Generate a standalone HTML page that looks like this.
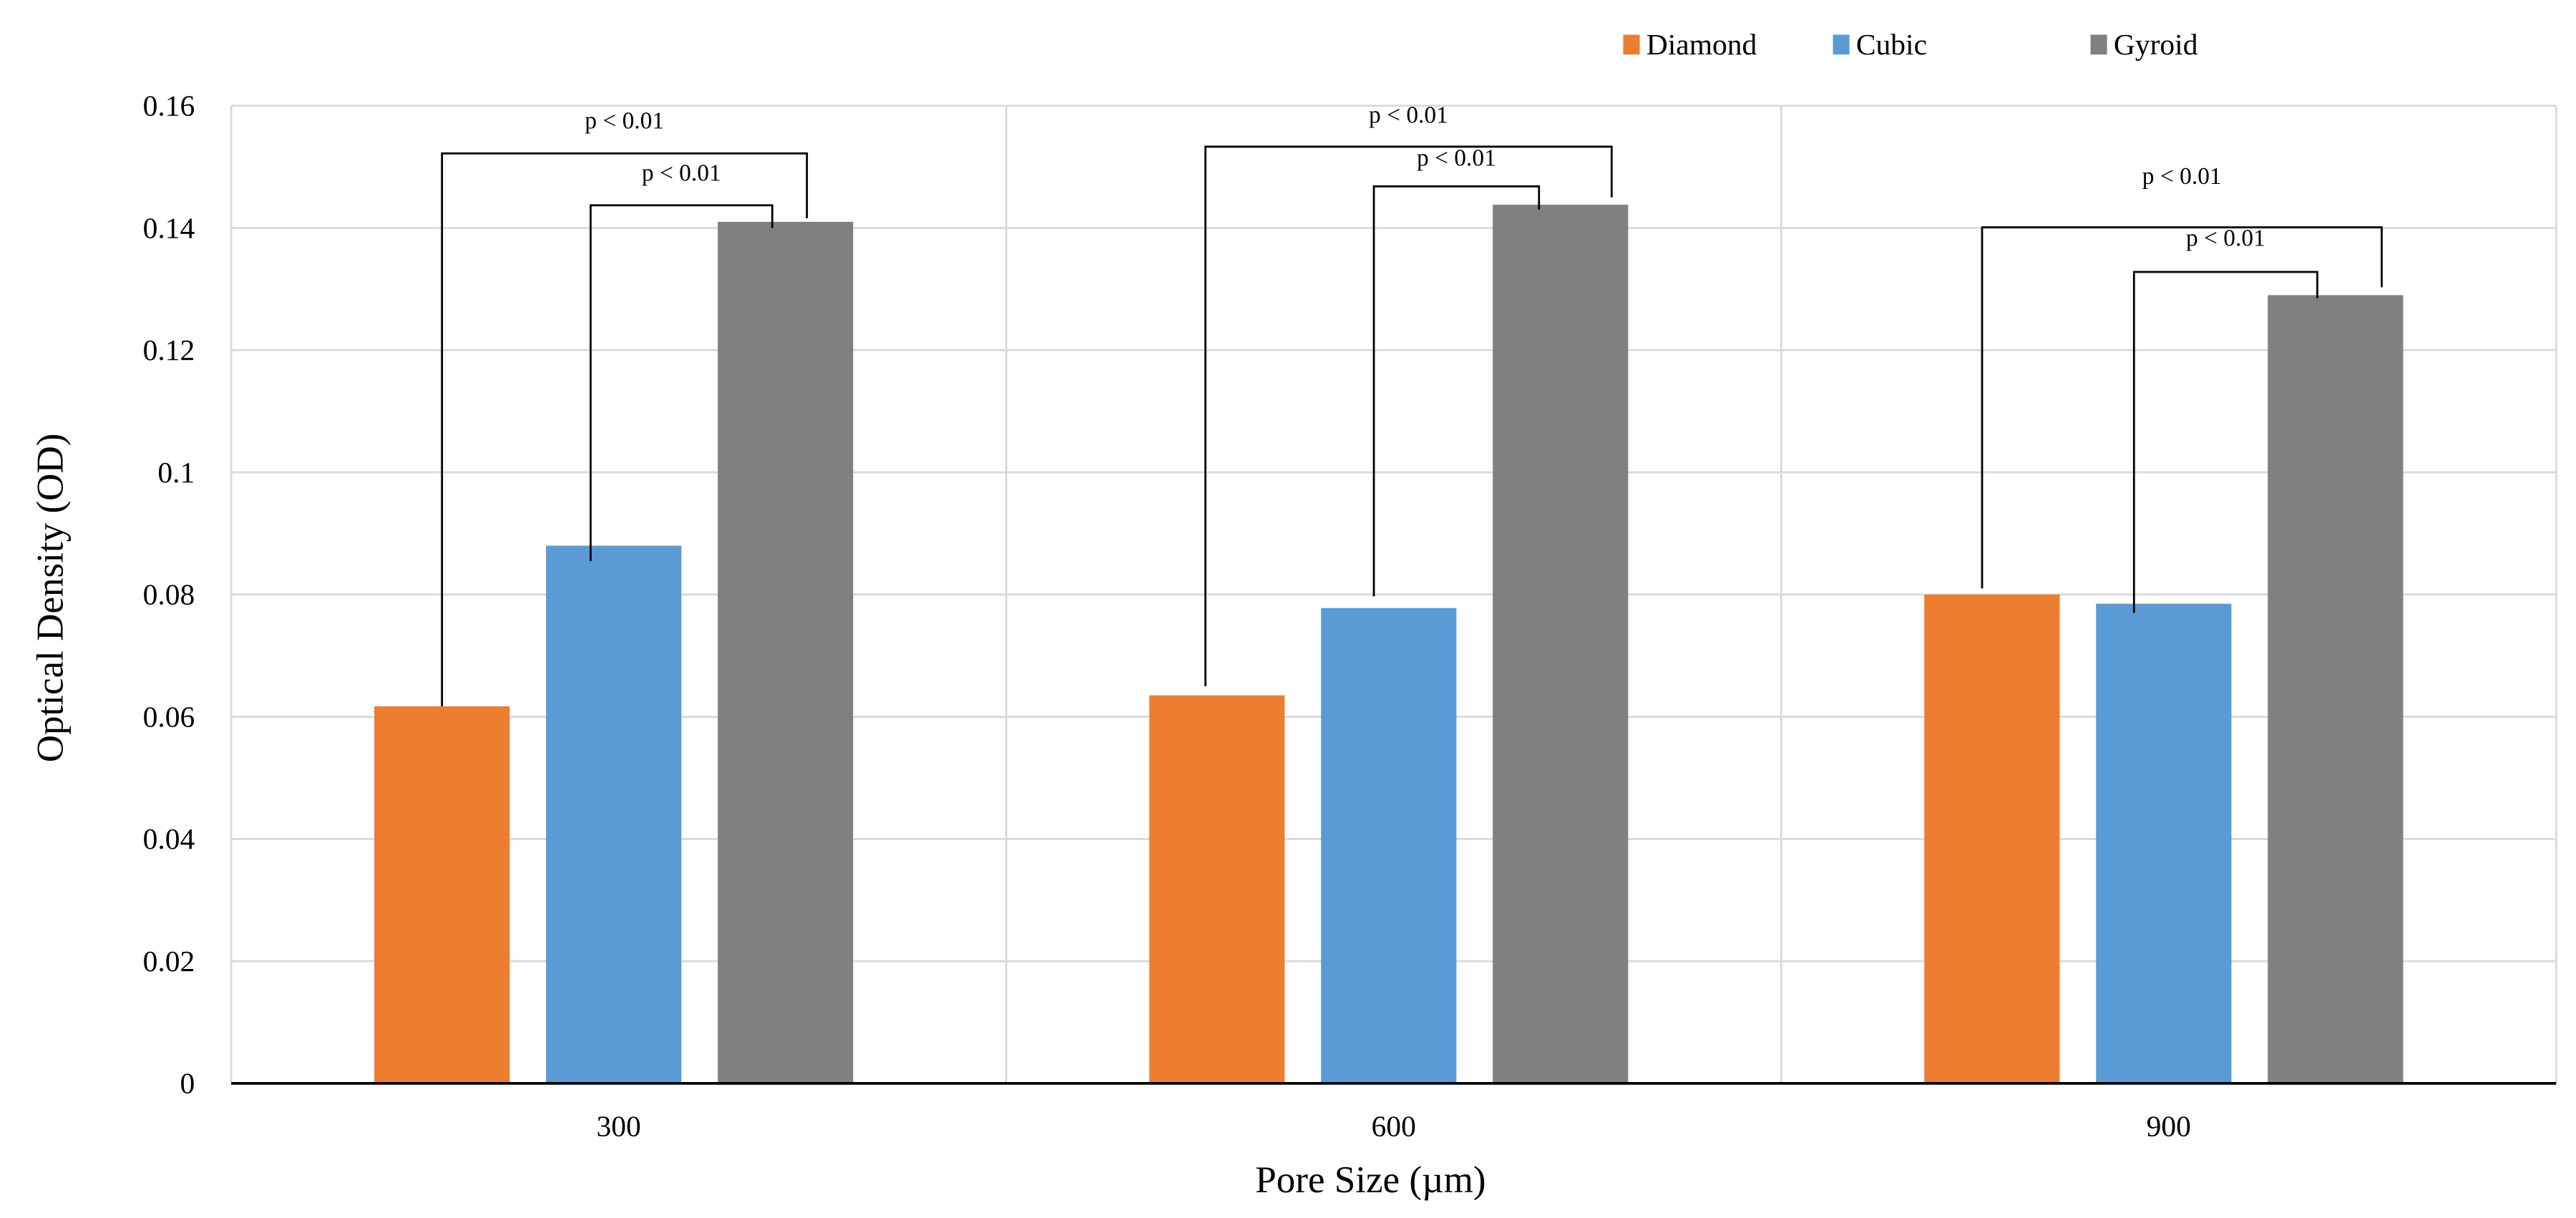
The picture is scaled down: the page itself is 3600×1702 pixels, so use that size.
<!DOCTYPE html>
<html><head><meta charset="utf-8">
<style>
html,body{margin:0;padding:0;background:#fff;}
svg{display:block;font-family:"Liberation Serif",serif;}
</style></head>
<body>
<svg id="chart" width="3600" height="1702" viewBox="0 0 1560 737.5" xmlns="http://www.w3.org/2000/svg">
<rect x="0" y="0" width="1560" height="737.5" fill="#fff"/>
<g id="grid"></g>
<g id="bars"></g>
<g id="brackets"></g>
<g id="axes"></g>
<text transform="translate(38,362) rotate(-90)" text-anchor="middle" font-size="23" fill="#000">Optical Density (OD)</text>
<text x="830" y="722" text-anchor="middle" font-size="23" fill="#000">Pore Size (µm)</text>
<g>
  <g><rect x="983" y="21" width="10" height="12" fill="#ED7D31"/><text x="997" y="33" font-size="18">Diamond</text></g>
  <g><rect x="1110" y="21" width="10" height="12" fill="#5B9BD5"/><text x="1124" y="33" font-size="18">Cubic</text></g>
  <g><rect x="1266" y="21" width="10" height="12" fill="#808080"/><text x="1280" y="33" font-size="18">Gyroid</text></g>
</g>
</svg>
<script>
const categories = ["300", "600", "900"];
const seriesNames = ["Diamond", "Cubic", "Gyroid"];
const diamondValues = [0.0617, 0.0635, 0.0800];
const cubicValues = [0.0880, 0.0778, 0.0785];
const gyroidValues = [0.1410, 0.1438, 0.1290];
const yTicks = [0, 0.02, 0.04, 0.06, 0.08, 0.1, 0.12, 0.14, 0.16];
const yTickLabels = ["0", "0.02", "0.04", "0.06", "0.08", "0.1", "0.12", "0.14", "0.16"];
// brackets: category index, left series, right series, top value, left-end value, right-end value
const bracketCat = [0, 0, 1, 1, 2, 2];
const bracketFrom = [0, 1, 0, 1, 0, 1];
const bracketTo = [2, 2, 2, 2, 2, 2];
const bracketTop = [0.1522, 0.1437, 0.1533, 0.1468, 0.1401, 0.1328];
const bracketLeftEnd = [0.0617, 0.0855, 0.0650, 0.0797, 0.0810, 0.0770];
const bracketRightEnd = [0.1416, 0.1400, 0.1450, 0.1430, 0.1303, 0.1285];
const bracketLabels = ["p < 0.01", "p < 0.01", "p < 0.01", "p < 0.01", "p < 0.01", "p < 0.01"];
const bracketLabelValue = [0.1563, 0.1477, 0.1572, 0.1502, 0.1472, 0.1371];

const NS = "http://www.w3.org/2000/svg";
const plotL = 140, plotR = 1548, plotT = 64, plotB = 656;
const yMax = 0.16;
function yScale(v){ return plotB - (v / yMax) * (plotB - plotT); }
const catW = (plotR - plotL) / categories.length;
function catX(i){ return plotL + catW * i; }
const barW = 82, barGap = 22, groupShift = -3;
function barX(ci, si){ return catX(ci) + catW/2 + groupShift - (3*barW + 2*barGap)/2 + si*(barW + barGap); }
function mk(tag, attrs, parent){ const e = document.createElementNS(NS, tag); for (const k in attrs) e.setAttribute(k, attrs[k]); parent.appendChild(e); return e; }
// visual offsets of bracket ends relative to bar centres (styling, not data)
const leftOff = [0, -14, -7, -9, -6, -18];
const rightOff = [13, -8, 31, -13, 28, -11];

const grid = document.getElementById('grid');
yTicks.forEach((t, i) => {
  if (t === 0) return;
  const l = mk('line', {x1: plotL, x2: plotR, y1: yScale(t), y2: yScale(t), stroke: '#d9d9d9', 'stroke-width': 1.2}, grid);
  
  
});
for (let i = 0; i <= categories.length; i++) {
  const l = mk('line', {x1: catX(i), x2: catX(i), y1: plotT, y2: plotB, stroke: '#d9d9d9', 'stroke-width': 1.2}, grid);
  
  
}

const bars = document.getElementById('bars');
const seriesVals = [diamondValues, cubicValues, gyroidValues];
const colors = ['#ED7D31', '#5B9BD5', '#808080'];
categories.forEach((c, ci) => {
  seriesVals.forEach((vals, si) => {
    const y = yScale(vals[ci]);
    const r = mk('rect', {x: barX(ci, si), y: y, width: barW, height: plotB - y, fill: colors[si]}, bars);
    
    
  });
});

const br = document.getElementById('brackets');
bracketCat.forEach((ci, i) => {
  const xl = barX(ci, bracketFrom[i]) + barW/2 + leftOff[i];
  const xr = barX(ci, bracketTo[i]) + barW/2 + rightOff[i];
  const yt = yScale(bracketTop[i]);
  const p = mk('path', {d: `M${xl},${yScale(bracketLeftEnd[i])} V${yt} H${xr} V${yScale(bracketRightEnd[i])}`, fill: 'none', stroke: '#000', 'stroke-width': 1.2}, br);
  
  
  const t = mk('text', {x: (xl + xr)/2, y: yScale(bracketLabelValue[i]), 'text-anchor': 'middle', 'font-size': 14.5, fill: '#000'}, br);
  t.textContent = bracketLabels[i];
  
  
});

const axes = document.getElementById('axes');
const xa = mk('line', {x1: plotL, x2: plotR, y1: plotB, y2: plotB, stroke: '#000', 'stroke-width': 1.6}, axes);


yTicks.forEach((t, i) => {
  const e = mk('text', {x: 118, y: yScale(t) + 6, 'text-anchor': 'end', 'font-size': 18, fill: '#000'}, axes);
  e.textContent = yTickLabels[i];
  
  
});
categories.forEach((c, i) => {
  const e = mk('text', {x: catX(i) + catW/2, y: 688, 'text-anchor': 'middle', 'font-size': 18, fill: '#000'}, axes);
  e.textContent = c;
  
  
});
</script>
</body></html>
